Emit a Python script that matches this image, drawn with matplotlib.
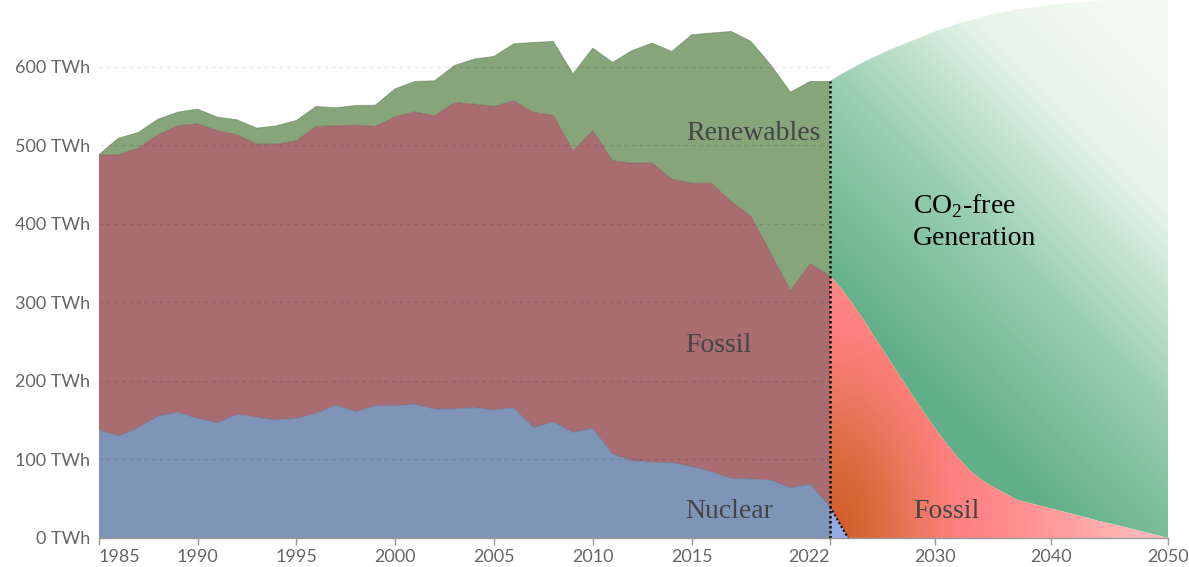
import numpy as np
import matplotlib
matplotlib.use("Agg")
import matplotlib.pyplot as plt

# German electricity generation in TWh
years = list(range(1985, 2023))
nuclear = [137.6, 129.9, 140.5, 155.4, 160.1, 152.4, 146.9, 157.5, 153.7, 150.3,
           152.4, 158.8, 169.4, 160.9, 168.5, 168.5, 170.3, 164.3, 164.3, 166.0,
           163.1, 166.0, 141.0, 147.8, 134.6, 139.7, 107.0, 98.5, 96.4, 96.0,
           90.9, 84.5, 76.0, 75.2, 73.9, 64.1, 68.4, 39.9]
fossil = [350.3, 358.0, 355.9, 358.0, 364.7, 375.0, 372.0, 355.9, 347.8, 351.2,
          353.3, 365.2, 355.4, 364.8, 355.5, 368.2, 372.2, 373.3, 390.2, 386.4,
          386.4, 390.7, 400.8, 390.2, 358.4, 378.8, 373.3, 378.8, 380.9, 360.9,
          360.9, 367.3, 352.4, 334.1, 288.8, 251.0, 280.6, 293.9]
renewables = [0.0, 21.2, 19.9, 19.9, 17.4, 18.7, 17.0, 19.1, 20.4, 23.3,
              25.9, 25.5, 23.0, 25.0, 27.1, 35.3, 38.8, 44.6, 47.2, 57.4,
              63.7, 72.6, 89.2, 94.3, 98.1, 105.3, 125.2, 143.5, 152.8, 162.6,
              189.0, 191.1, 216.6, 223.0, 239.8, 252.6, 232.3, 247.5]

# outlook panel (own x scale); proj_fossil is the top of the non-renewable stack
proj_years = [2021, 2022, 2023, 2024, 2025, 2026, 2027, 2028, 2029, 2030, 2031, 2032,
              2033, 2034, 2035, 2036, 2037, 2038, 2040, 2042, 2044, 2046, 2048, 2050]
proj_total = [582, 591, 599, 607, 614, 621, 627, 633, 639, 645, 650, 655,
              659, 663, 667, 670, 673, 675, 679, 682, 684, 687, 690, 693]
proj_fossil = [334, 317, 297, 275, 252, 229, 206, 183, 161, 140, 120, 102,
               86, 74, 65, 57, 49, 45, 37.5, 30, 22, 15, 7.5, 0]
phaseout_years = [2021, 2022.55]
phaseout_nuclear = [39.9, 0]

left_ticks = [1985, 1990, 1995, 2000, 2005, 2010, 2015, 2022]
right_ticks = [2030, 2040, 2050]
y_ticks = [0, 100, 200, 300, 400, 500, 600]

W, H = 1189, 567
PX_X = 11.615   # px per year in the outlook panel
PX_Y = 0.785    # px per TWh


def ramp(t, stops, colors):
    colors = np.array(colors, dtype=float) / 255.0
    out = np.zeros(t.shape + (3,))
    for i in range(3):
        out[..., i] = np.interp(t, stops, colors[:, i])
    return out


def green_grad(X, Y):
    t = (X - 2021) * PX_X + Y * PX_Y
    return ramp(t, [0, 250, 460, 660, 800],
                [(90, 170, 130), (98, 176, 136), (152, 206, 176),
                 (230, 243, 231), (243, 250, 243)])


def fossil_grad(X, Y):
    r = np.sqrt(((X - 2021) * PX_X / 300) ** 2 + (Y * PX_Y / 500) ** 2)
    return ramp(r, [0, 0.15, 0.3, 0.42, 0.6, 1.0],
                [(205, 90, 35), (220, 105, 60), (240, 120, 100),
                 (255, 128, 128), (255, 140, 140), (255, 182, 182)])


def gradient_fill(ax, x, lo, hi, func, z):
    poly = ax.fill_between(x, lo, hi, color="none", lw=0)
    xs = np.linspace(2021, 2050, 300)
    ys = np.linspace(0, 700, 300)
    X, Y = np.meshgrid(xs, ys)
    im = ax.imshow(func(X, Y), extent=[2021, 2050, 0, 700], origin="lower",
                   aspect="auto", interpolation="bilinear", zorder=z)
    im.set_clip_path(poly.get_paths()[0], transform=ax.transData)


def main():
    fig = plt.figure(figsize=(W / 100, H / 100), dpi=100)
    ax = fig.add_axes([98.7 / W, 29 / H, (830 - 98.7) / W, 538 / H])
    ax2 = fig.add_axes([830 / W, 29 / H, (1168 - 830) / W, 538 / H])

    c_nuc, c_fos, c_ren = "#7f95b8", "#a86c71", "#86a57a"
    ax.stackplot(years, nuclear, fossil, renewables,
                 colors=[c_nuc, c_fos, c_ren], lw=0, zorder=1)
    n = np.array(nuclear)
    nf = n + np.array(fossil)
    tot = nf + np.array(renewables)
    ax.plot(years, n, color="#5d6f90", lw=0.7, alpha=0.6, zorder=1.2)
    ax.plot(years, nf, color="#7d4a50", lw=0.7, alpha=0.5, zorder=1.2)
    ax.plot(years, tot, color="#5f7a55", lw=0.7, alpha=0.5, zorder=1.2)

    ax.set_xlim(1985, 2022)
    ax.set_ylim(0, 685)
    ax.set_yticks(y_ticks)
    ax.set_yticklabels([f"{v} TWh" for v in y_ticks])
    ax.set_xticks(left_ticks)
    ax.set_xticklabels([str(v) for v in left_ticks])
    labs = ax.get_xticklabels()
    labs[0].set_ha("left")
    labs[-1].set_ha("right")
    ax.set_axisbelow(False)
    ax.yaxis.grid(True, color="black", alpha=0.1, lw=0.9, ls=(0, (3, 3)))

    # outlook
    gradient_fill(ax2, proj_years, proj_fossil, proj_total, green_grad, 1)
    gradient_fill(ax2, proj_years, 0, proj_fossil, fossil_grad, 1.5)
    ax2.fill_between(phaseout_years, 0, phaseout_nuclear, color="#93ade4", lw=0, zorder=2)
    ax2.plot(phaseout_years, phaseout_nuclear, color="#111111", lw=1.6,
             ls=(0, (1, 1)), zorder=3)
    ax2.set_xlim(2021, 2050)
    ax2.set_ylim(0, 685)
    ax2.set_xticks(right_ticks)
    ax2.set_yticks([])

    # boundary between history and outlook, drawn on the top panel so it is not covered
    ax2.plot([2021, 2021], [0, tot[-1]], color="#111111", lw=1.8,
             ls=(0, (1, 1)), clip_on=False, zorder=5)

    for a in (ax, ax2):
        for s in ("top", "right", "left"):
            a.spines[s].set_visible(False)
        a.spines["bottom"].set_color("#999999")
        a.spines["bottom"].set_linewidth(1.0)
        a.spines["bottom"].set_zorder(6)
        a.tick_params(axis="x", length=5, width=1, color="#999999", pad=3,
                      labelsize=13, labelcolor="#666666")
        for t in a.get_xticklabels():
            t.set_family("Lato")
    ax.tick_params(axis="y", length=0, pad=6, labelsize=13, labelcolor="#666666")
    for t in ax.get_yticklabels():
        t.set_family("Lato")

    plt.rcParams["mathtext.fontset"] = "custom"
    plt.rcParams["mathtext.rm"] = "Liberation Serif"
    serif = dict(family="Liberation Serif", fontsize=20, va="baseline", ha="left", zorder=7)
    ax.text(2014.72, 507, "Renewables", color="#444444", **serif)
    ax.text(2014.69, 237, "Fossil", color="#444444", **serif)
    ax.text(2014.69, 25.5, "Nuclear", color="#444444", **serif)
    ax2.text(2028.15, 25.5, "Fossil", color="#444444", **serif)
    ax2.text(2028.15, 414, r"CO$_2$-free", color="black", **serif)
    ax2.text(2028.15, 373, "Generation", color="black", **serif)

    fig.savefig("out.png", dpi=100)


if __name__ == "__main__":
    main()
